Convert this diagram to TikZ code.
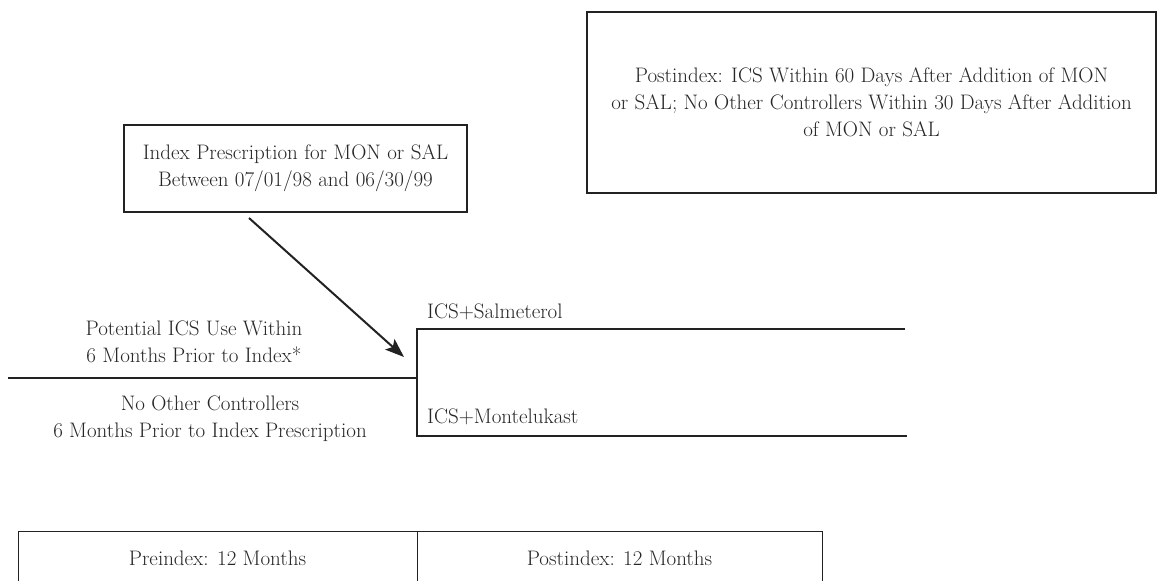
\documentclass[tikz,border=0pt]{standalone}
\usetikzlibrary{arrows.meta}
\definecolor{ink}{HTML}{222222}
\definecolor{txt}{HTML}{262626}
\begin{document}
\begin{tikzpicture}[x=1pt,y=-1pt,
  every node/.style={text=txt,font=\fontsize{21}{27}\selectfont,inner sep=0pt},
  box/.style={draw=ink,line width=1.2pt},
  mainline/.style={draw=ink,line width=2pt},
  lbl/.style={align=center},
  branchlbl/.style={anchor=west}]
\useasboundingbox (0,0) rectangle (1157,581);
\clip (0,0) rectangle (1157,581);
% top right box
\node[box,minimum width=569pt,minimum height=181pt,lbl] (post) at (871.5,102.5)
  {Postindex: ICS Within 60 Days After Addition of MON\\or SAL; No Other Controllers Within 30 Days After Addition\\of MON or SAL};
% index box
\node[box,minimum width=343pt,minimum height=87pt,lbl] (index) at (295.5,168.5)
  {Index Prescription for MON or SAL\\Between 07/01/98 and 06/30/99};
% timeline
\coordinate (L) at (8,378);
\coordinate (J) at (417,378);
\coordinate (Jt) at (417,329);
\coordinate (Jb) at (417,436);
\coordinate (Et) at (905,329);
\coordinate (Eb) at (907,436);
\draw[mainline] (L) -- (J);
\draw[mainline] (Et) -- (Jt) -- (Jb) -- (Eb);
% arrow
\coordinate (aS) at (249,218);
\coordinate (aE) at (404,357);
\draw[draw=ink,line width=2pt,-{Stealth[length=19pt,width=14pt,inset=4pt]}] (aS) -- (aE);
% labels
\node[lbl] (pot) at (194,341.5) {Potential ICS Use Within\\6 Months Prior to Index*};
\node[lbl] (noother) at (210,418.5) {No Other Controllers\\6 Months Prior to Index Prescription};
\node[branchlbl] (sal) at (427,312) {ICS+Salmeterol};
\node[branchlbl] (mon) at (427,417) {ICS+Montelukast};
% bottom boxes
\node[box,minimum width=399pt,minimum height=70pt,anchor=north west] (pre) at (18,531) {};
\node[box,minimum width=405pt,minimum height=70pt,anchor=north west] (postb) at (417,531) {};
\node (pretxt) at (217.5,558) {Preindex: 12 Months};
\node (posttxt) at (619.5,558) {Postindex: 12 Months};
\end{tikzpicture}
\end{document}
